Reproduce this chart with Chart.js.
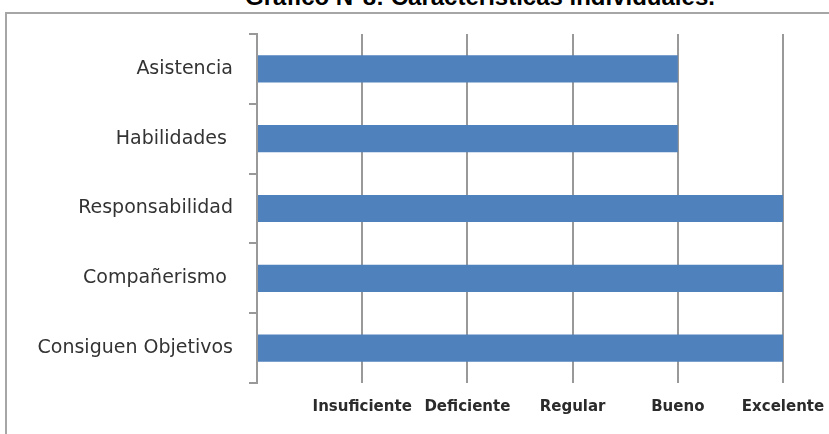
<!DOCTYPE html>
<html>
<head>
<meta charset="utf-8">
<script src="https://cdn.jsdelivr.net/npm/chart.js@4/dist/chart.umd.min.js"></script>
<style>
  html, body { margin: 0; padding: 0; background: #fff; overflow: hidden; }
  #wrap { position: relative; width: 829px; height: 434px; }
  #title {
    position: absolute; left: 0; width: 960px; top: -17px;
    text-align: center; font: bold 24px "Liberation Sans", Arial, sans-serif; color: #000;
    white-space: nowrap;
  }
  #frame {
    position: absolute; left: 5px; top: 12px; width: 900px; height: 500px;
    border-top: 2px solid #a6a6a6; border-left: 2px solid #a6a6a6;
  }
  #chart { position: absolute; left: 0; top: 0; }
</style>
</head>
<body>
<div id="wrap">
  <div id="title">Gráfico N°8: Características individuales.</div>
  <div id="frame"></div>
  <canvas id="chart" width="829" height="434"></canvas>
</div>
<script>
// categorias y valores
var categories = ["Asistencia", "Habilidades ", "Responsabilidad", "Compañerismo ", "Consiguen Objetivos"];
var values = [4, 4, 5, 5, 5];
var tickLabels = ["", "Insuficiente", "Deficiente", "Regular", "Bueno", "Excelente"];

new Chart("chart", {
  type: "bar",
  data: {
    labels: categories,
    datasets: [
      {
        data: values,
        backgroundColor: "#4f81bd",
        borderWidth: 0,
        barPercentage: 0.39,
        categoryPercentage: 1,
      },
    ],
  },
  options: {
    indexAxis: "y",
    responsive: false,
    animation: false,
    devicePixelRatio: 1,
    layout: { padding: { top: 34, right: 46, left: 0, bottom: 0 } },
    plugins: { legend: { display: false }, tooltip: { enabled: false } },
    scales: {
      x: {
        min: 0,
        max: 5,
        ticks: {
          stepSize: 1,
          padding: 15,
          maxRotation: 0,
          minRotation: 0,
          autoSkip: false,
          color: "#2b2b2b",
          font: { family: "DejaVu Sans", size: 15, weight: "bold" },
          callback: (v) => tickLabels[v],
        },
        grid: { color: "#999", lineWidth: 2, drawTicks: false },
        border: { display: false },
        afterFit: (scale) => {
          scale.height = 51;
          scale.paddingLeft = 0;
          scale.paddingRight = 0;
        },
      },
      y: {
        ticks: {
          padding: 16,
          color: "#333",
          font: { family: "DejaVu Sans", size: 19 },
        },
        grid: { drawOnChartArea: false, drawTicks: true, tickLength: 8, color: "#999", lineWidth: 2 },
        border: { display: true, color: "#999", width: 2 },
        afterFit: (scale) => {
          scale.width = 257;
        },
      },
    },
  },
});
</script>
</body>
</html>
